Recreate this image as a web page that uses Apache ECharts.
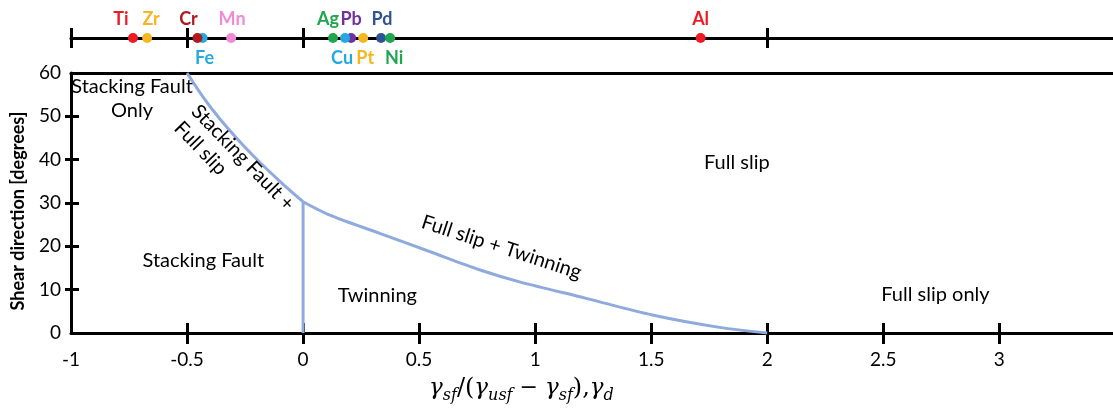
<!DOCTYPE html>
<html>
<head>
<meta charset="utf-8">
<title>Deformation mechanism map</title>
<script src="https://cdn.jsdelivr.net/npm/echarts@6/dist/echarts.min.js"></script>
<style>
  html, body { margin: 0; padding: 0; background: #ffffff; }
  #chart { width: 1113px; height: 410px; }
</style>
</head>
<body>
<div id="chart"></div>
<script>
// ---- data ----
const xTickValues = [-0.5, 0, 0.5, 1, 1.5, 2, 2.5, 3];
const yTickValues = [10, 20, 30, 40, 50];
const stripTickValues = [-1, -0.5, 0, 2];

// elements placed on the upper scale (drawn in this order, later on top)
const elements      = ['Ti', 'Zr', 'Fe', 'Cr', 'Mn', 'Ag', 'Pb', 'Cu', 'Pt', 'Pd', 'Ni', 'Al'];
const elementValues = [-0.733, -0.672, -0.433, -0.455, -0.310, 0.129, 0.207, 0.181, 0.259, 0.336, 0.375, 1.713];
const elementColors = ['#ED1C24', '#F6B622', '#25A9E0', '#AF1A1E', '#F28AD3', '#1FA64F',
                       '#7231A1', '#23A9E1', '#F6B622', '#2E5496', '#1FA64F', '#ED1C24'];
const elementLabelSide  = ['top', 'top', 'bottom', 'top', 'top', 'top', 'top', 'bottom', 'bottom', 'top', 'bottom', 'top'];
const elementLabelShift = [-12, 4, 2, -9, 1, -5, 0, -3, 2, 1, 4, 0];

// regime boundaries: shear direction (deg) vs. ratio
const sfBoundaryX = [-0.5, -0.43, -0.36, -0.29, -0.22, -0.15, -0.075, 0];
const sfBoundaryY = [60, 54.4, 49.5, 45.2, 41.2, 37.5, 33.8, 30.3];
const twinBoundaryX = [0, 0.115, 0.33, 0.545, 0.76, 0.933, 1.22, 1.505, 1.794, 2];
const twinBoundaryY = [30.3, 27.2, 23.0, 18.8, 14.6, 11.8, 8.0, 4.15, 1.3, 0];
const verticalBoundaryX = [0, 0];
const verticalBoundaryY = [30.3, 0];

// regime names and where they sit (data space)
const regionNames = ['Stacking Fault\nOnly', 'Stacking Fault +\nFull slip', 'Full slip',
                     'Full slip + Twinning', 'Stacking Fault', 'Twinning', 'Full slip only'];
const regionX = [-0.737, -0.503, 1.869, 0.855, -0.43, 0.32, 2.725];
const regionY = [54.2, 50.0, 39.3, 19.8, 16.8, 8.6, 8.8];
const regionRotate = [0, -46, 0, -18, 0, 0, 0];
const regionAlign  = ['center', 'left', 'center', 'center', 'center', 'center', 'center'];

// ---- chart ----
const FONT = 'Lato';
const INK = '#000000';
const CURVE = '#8FAADC';
const X_MIN = -1, X_MAX = 3.49;

const zip = (xs, ys) => xs.map((x, i) => [x, ys[i]]);

const chart = echarts.init(document.getElementById('chart'), null, { renderer: 'canvas' });

const axisLine = { show: true, onZero: false, lineStyle: { color: INK, width: 3 } };
const noLine = { show: false, onZero: false };
const tickStyle = { color: INK, width: 3 };

const option = {
  backgroundColor: '#ffffff',
  animation: false,
  textStyle: { fontFamily: FONT },
  grid: [
    { left: 71, right: 0, top: 73, bottom: 77, containLabel: false },
    { left: 71, right: 0, top: 28, height: 10, containLabel: false }
  ],
  xAxis: [
    { // main bottom axis with labels and downward ticks
      type: 'value', gridIndex: 0, position: 'bottom', min: X_MIN, max: X_MAX, interval: 0.5,
      axisLine: axisLine,
      axisTick: { show: true, inside: false, length: 11, lineStyle: tickStyle, customValues: xTickValues },
      axisLabel: { show: true, color: INK, fontSize: 19, fontFamily: FONT, margin: 17,
                   customValues: [-1].concat(xTickValues) },
      splitLine: { show: false }
    },
    { // upward half of the bottom ticks
      type: 'value', gridIndex: 0, position: 'bottom', min: X_MIN, max: X_MAX, interval: 0.5,
      axisLine: noLine,
      axisTick: { show: true, inside: true, length: 10, lineStyle: tickStyle, customValues: xTickValues },
      axisLabel: { show: false }, splitLine: { show: false }
    },
    { // top frame line
      type: 'value', gridIndex: 0, position: 'top', min: X_MIN, max: X_MAX,
      axisLine: axisLine, axisTick: { show: false }, axisLabel: { show: false }, splitLine: { show: false }
    },
    { // element scale: crossing ticks
      type: 'value', gridIndex: 1, position: 'top', min: X_MIN, max: X_MAX,
      axisLine: noLine,
      axisTick: { show: true, inside: true, length: 20, lineStyle: tickStyle, customValues: stripTickValues },
      axisLabel: { show: false }, splitLine: { show: false }
    },
    { // element scale: line
      type: 'value', gridIndex: 1, position: 'bottom', min: X_MIN, max: X_MAX,
      axisLine: axisLine, axisTick: { show: false }, axisLabel: { show: false }, splitLine: { show: false }
    }
  ],
  yAxis: [
    {
      type: 'value', gridIndex: 0, position: 'left', min: 0, max: 60, interval: 10,
      axisLine: axisLine,
      axisTick: { show: true, inside: false, length: 6, lineStyle: tickStyle, customValues: yTickValues },
      axisLabel: { show: true, color: INK, fontSize: 19, fontFamily: FONT, margin: 10 },
      splitLine: { show: false },
      name: 'Shear direction [degrees]', nameLocation: 'middle', nameGap: 44, nameRotate: 90,
      nameTextStyle: { color: INK, fontSize: 18, fontWeight: 'bold', fontFamily: FONT,
                       padding: [0, 16, 0, 0] }
    },
    {
      type: 'value', gridIndex: 0, position: 'left', min: 0, max: 60, interval: 10,
      axisLine: noLine,
      axisTick: { show: true, inside: true, length: 8, lineStyle: tickStyle, customValues: yTickValues },
      axisLabel: { show: false }, splitLine: { show: false }
    },
    {
      type: 'value', gridIndex: 1, min: 0, max: 1, show: false
    }
  ],
  graphic: [
    {
      type: 'text', left: 527 - 98, top: 377,
      style: {
        text: '{g|γ}{s|sf}{p|/(}{g|γ}{s|usf}{o| − }{g|γ}{s|sf}{p|),}{g|γ}{s|d}',
        fill: INK,
        rich: {
          g: { fontFamily: 'DejaVu Serif', fontStyle: 'italic', fontSize: 23, lineHeight: 24, verticalAlign: 'top', fill: INK },
          s: { fontFamily: 'DejaVu Serif', fontStyle: 'italic', fontSize: 16, lineHeight: 16, padding: [11, 0, 0, 0], verticalAlign: 'top', fill: INK },
          p: { fontFamily: 'DejaVu Serif', fontSize: 24, lineHeight: 24, verticalAlign: 'top', fill: INK },
          o: { fontFamily: 'DejaVu Serif', fontSize: 22, lineHeight: 24, verticalAlign: 'top', fill: INK }
        }
      }
    }
  ],
  series: [
    {
      name: 'SF / SF+FS boundary', type: 'line', xAxisIndex: 0, yAxisIndex: 0,
      data: zip(sfBoundaryX, sfBoundaryY), smooth: 0.3, showSymbol: false, clip: false,
      lineStyle: { color: CURVE, width: 3 }, z: 3
    },
    {
      name: 'Twinning boundary', type: 'line', xAxisIndex: 0, yAxisIndex: 0,
      data: zip(twinBoundaryX, twinBoundaryY), smooth: 0.3, showSymbol: false, clip: false,
      lineStyle: { color: CURVE, width: 3 }, z: 3
    },
    {
      name: 'SF / Twinning boundary', type: 'line', xAxisIndex: 0, yAxisIndex: 0,
      data: zip(verticalBoundaryX, verticalBoundaryY), showSymbol: false, clip: false,
      lineStyle: { color: CURVE, width: 3 }, z: 3
    },
    {
      name: 'Regimes', type: 'scatter', xAxisIndex: 0, yAxisIndex: 0, silent: true, clip: false,
      symbolSize: 0.1, itemStyle: { color: 'rgba(0,0,0,0)', opacity: 1 },
      data: regionNames.map((n, i) => ({
        value: [regionX[i], regionY[i]],
        label: {
          show: true, position: 'inside', formatter: n, rotate: regionRotate[i],
          align: regionAlign[i], verticalAlign: 'middle',
          color: INK, fontSize: 20, lineHeight: 24, fontFamily: FONT
        }
      })),
      z: 4
    },
    {
      name: 'Elements', type: 'scatter', xAxisIndex: 4, yAxisIndex: 2, clip: false,
      symbolSize: 10, itemStyle: { opacity: 1 },
      data: elements.map((el, i) => ({
        value: [elementValues[i], 0],
        name: el,
        itemStyle: { color: elementColors[i], opacity: 1 },
        label: {
          show: true, formatter: el, position: elementLabelSide[i],
          distance: elementLabelSide[i] === 'top' ? 5 : 6,
          offset: [elementLabelShift[i], 0],
          color: elementColors[i], fontSize: 18, fontWeight: 'bold', fontFamily: FONT
        }
      })),
      z: 5
    }
  ]
};

chart.setOption(option);
</script>
</body>
</html>
